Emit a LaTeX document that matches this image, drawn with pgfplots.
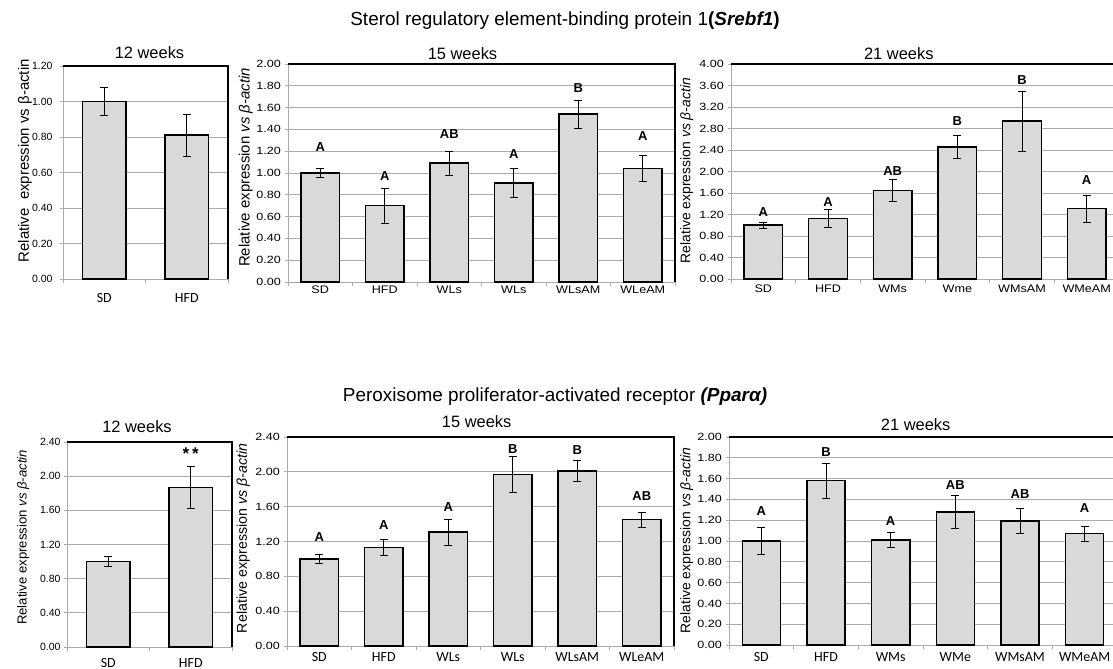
\documentclass[border=0pt]{standalone}
\usepackage{fontspec}
\setmainfont{Liberation Sans}
\newfontfamily\calibri{Carlito}
\usepackage{pgfplots}
\pgfplotsset{compat=1.18}
\definecolor{barfill}{HTML}{D9D9D9}
\definecolor{gridc}{HTML}{ABABAB}
\newcommand{\fs}[1]{\fontsize{#1}{#1}\selectfont}
\tikzset{lett/.style={font=\bfseries\fs{13}}}
\pgfplotsset{
  panel/.style={
    ybar, scale only axis, anchor=south west, ymin=0, clip=false,
    enlargelimits=false,
    axis x line*=bottom, axis y line*=left,
    axis line style={gridc, line width=0.8bp},
    ymajorgrids, major grid style={gridc, line width=0.8bp},
    tick align=outside, major tick length=3bp, minor tick length=4bp,
    ytick style={gridc, line width=0.8bp},
    major x tick style={draw=none},
    minor x tick style={gridc, line width=0.8bp},
    yticklabel={\pgfmathprintnumber[fixed,fixed zerofill,precision=2,assume math mode=true]{\tick}},
    yticklabel style={font=\fs{10.5}},
    xticklabel style={anchor=center},
  },
  barplot/.style={fill=barfill, draw=black, line width=1.5bp,
    error bars/.cd, y dir=both, y explicit,
    error bar style={black, line width=0.7bp},
    error mark options={rotate=90, mark size=4bp, black, line width=0.7bp}},
}
\newcommand{\frametr}{\draw[black, line width=1.8bp] (rel axis cs:0,1) -- (rel axis cs:1,1) -- (rel axis cs:1,0);}
\begin{document}
\begin{tikzpicture}[x=1bp,y=1bp]
\useasboundingbox (0bp,0bp) rectangle (1113bp,669bp);

% ---------- Top row: Srebf1 ----------
\begin{axis}[panel, at={(63bp,390bp)}, width=165bp, height=213bp,
  xmin=-0.5, xmax=1.5, ymax=1.2, ytick={0,0.2,0.4,0.6,0.8,1.0,1.2},
  xtick={0,1}, xticklabels={SD,HFD}, minor xtick={-0.5,0.5,1.5},
  xticklabel style={font=\calibri\fs{14}, yshift=-16bp},
  yticklabel style={xshift=-4bp},
  bar width=0.53]
\addplot[barplot] coordinates {(0,1.00) +- (0,0.08) (1,0.81) +- (0,0.12)};
\frametr
\end{axis}

\begin{axis}[panel, at={(288bp,387bp)}, width=387bp, height=218bp,
  xmin=-0.5, xmax=5.5, ymax=2.0, ytick={0,0.2,0.4,0.6,0.8,1.0,1.2,1.4,1.6,1.8,2.0},
  xtick={0,...,5}, xticklabels={SD,HFD,WLs,WLs,WLsAM,WLeAM}, minor xtick={-0.5,0.5,...,5.5},
  xticklabel style={font=\fs{11}, xscale=1.15, yshift=-5bp},
  yticklabel style={xscale=1.2},
  bar width=0.59]
\addplot[barplot] coordinates {(0,1.00) +- (0,0.04) (1,0.70) +- (0,0.16) (2,1.09) +- (0,0.11)
  (3,0.91) +- (0,0.13) (4,1.54) +- (0,0.13) (5,1.04) +- (0,0.12)};
\node[lett] at (axis cs:0,1.24) {A};
\node[lett] at (axis cs:1,0.97) {A};
\node[lett] at (axis cs:2,1.36) {AB};
\node[lett] at (axis cs:3,1.17) {A};
\node[lett] at (axis cs:4,1.78) {B};
\node[lett] at (axis cs:5,1.34) {A};
\frametr
\end{axis}

\begin{axis}[panel, at={(731bp,390bp)}, width=388bp, height=215bp,
  xmin=-0.5, xmax=5.5, ymax=4.0, ytick={0,0.4,0.8,1.2,1.6,2.0,2.4,2.8,3.2,3.6,4.0},
  xtick={0,...,5}, xticklabels={SD,HFD,WMs,Wme,WMsAM,WMeAM}, minor xtick={-0.5,0.5,...,5.5},
  xticklabel style={font=\fs{11}, xscale=1.15, yshift=-7bp},
  yticklabel style={xscale=1.2},
  bar width=0.60]
\addplot[barplot] coordinates {(0,1.00) +- (0,0.06) (1,1.13) +- (0,0.16) (2,1.65) +- (0,0.20)
  (3,2.46) +- (0,0.22) (4,2.94) +- (0,0.56) (5,1.31) +- (0,0.25)};
\node[lett] at (axis cs:0,1.25) {A};
\node[lett] at (axis cs:1,1.44) {A};
\node[lett] at (axis cs:2,2.01) {AB};
\node[lett] at (axis cs:3,2.94) {B};
\node[lett] at (axis cs:4,3.71) {B};
\node[lett] at (axis cs:5,1.84) {A};
\frametr
\end{axis}

% ---------- Bottom row: Ppar alpha ----------
\begin{axis}[panel, at={(67bp,22bp)}, width=165bp, height=205bp,
  xmin=-0.5, xmax=1.5, ymax=2.4, ytick={0,0.4,0.8,1.2,1.6,2.0,2.4},
  xtick={0,1}, xticklabels={SD,HFD}, minor xtick={-0.5,0.5,1.5},
  xticklabel style={font=\calibri\fs{14}, yshift=-13bp},
  bar width=0.53]
\addplot[barplot] coordinates {(0,1.00) +- (0,0.06) (1,1.87) +- (0,0.25)};
\node[font=\bfseries\fs{17}] at (axis cs:1,2.26) {*\,*};
\frametr
\end{axis}

\begin{axis}[panel, at={(287bp,23bp)}, width=387bp, height=209bp,
  xmin=-0.5, xmax=5.5, ymax=2.4, ytick={0,0.4,0.8,1.2,1.6,2.0,2.4},
  xtick={0,...,5}, xticklabels={SD,HFD,WLs,WLs,WLsAM,WLeAM}, minor xtick={-0.5,0.5,...,5.5},
  xticklabel style={font=\calibri\fs{14}, yshift=-8bp},
  yticklabel style={xscale=1.2},
  bar width=0.59]
\addplot[barplot] coordinates {(0,1.00) +- (0,0.05) (1,1.13) +- (0,0.09) (2,1.31) +- (0,0.15)
  (3,1.97) +- (0,0.21) (4,2.01) +- (0,0.12) (5,1.45) +- (0,0.09)};
\node[lett] at (axis cs:0,1.25) {A};
\node[lett] at (axis cs:1,1.39) {A};
\node[lett] at (axis cs:2,1.60) {A};
\node[lett] at (axis cs:3,2.26) {B};
\node[lett] at (axis cs:4,2.25) {B};
\node[lett] at (axis cs:5,1.72) {AB};
\frametr
\end{axis}

\begin{axis}[panel, at={(729bp,24bp)}, width=388bp, height=208bp,
  xmin=-0.5, xmax=5.5, ymax=2.0, ytick={0,0.2,0.4,0.6,0.8,1.0,1.2,1.4,1.6,1.8,2.0},
  xtick={0,...,5}, xticklabels={SD,HFD,WMs,WMe,WMsAM,WMeAM}, minor xtick={-0.5,0.5,...,5.5},
  xticklabel style={font=\calibri\fs{14}, yshift=-9bp},
  yticklabel style={xscale=1.2},
  bar width=0.59]
\addplot[barplot] coordinates {(0,1.00) +- (0,0.13) (1,1.58) +- (0,0.17) (2,1.01) +- (0,0.07)
  (3,1.28) +- (0,0.16) (4,1.19) +- (0,0.12) (5,1.07) +- (0,0.07)};
\node[lett] at (axis cs:0,1.29) {A};
\node[lett] at (axis cs:1,1.86) {B};
\node[lett] at (axis cs:2,1.19) {A};
\node[lett] at (axis cs:3,1.54) {AB};
\node[lett] at (axis cs:4,1.45) {AB};
\node[lett] at (axis cs:5,1.32) {A};
\frametr
\end{axis}

% ---------- Titles ----------
\node[font=\fs{19}] at (565bp,648bp) {Sterol regulatory element-binding protein 1\textbf{(\textit{Srebf1})}};
\node[font=\fs{19}] at (555bp,272bp) {Peroxisome proliferator-activated receptor \textbf{\textit{(Pparα)}}};

\node[font=\fs{16.5}] at (149.5bp,616.3bp) {12 weeks};
\node[font=\fs{16.5}] at (462.5bp,615.7bp) {15 weeks};
\node[font=\fs{16.5}] at (898.8bp,615.7bp) {21 weeks};
\node[font=\fs{16.5}] at (137bp,242.3bp) {12 weeks};
\node[font=\fs{16.5}] at (476.7bp,247.3bp) {15 weeks};
\node[font=\fs{16.5}] at (915.7bp,244.7bp) {21 weeks};

% ---------- Y labels ----------
\node[font=\fs{15}, rotate=90] at (25bp,508.2bp) {Relative\ \ expression vs β-actin};
\node[font=\fs{15}, rotate=90] at (245.7bp,501.5bp) {Relative expression \textit{vs β-actin}};
\node[font=\fs{14}, rotate=90] at (686.7bp,498.2bp) {Relative expression \textit{vs β-actin}};
\node[font=\fs{13.2}, rotate=90] at (23.3bp,131.5bp) {Relative expression \textit{vs β-actin}};
\node[font=\fs{14.3}, rotate=90] at (243.3bp,130.7bp) {Relative expression \textit{vs β-actin}};
\node[font=\fs{14}, rotate=90] at (686.7bp,128.2bp) {Relative expression \textit{vs β-actin}};
\end{tikzpicture}
\end{document}
